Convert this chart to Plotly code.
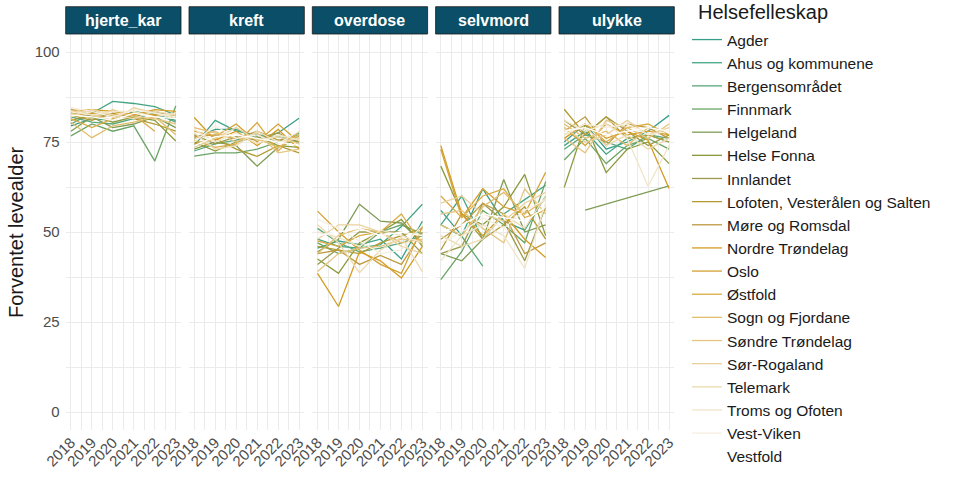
import plotly.graph_objects as go

# Forventet levealder per helsefelleskap, dødsårsak og år
years = [2018, 2019, 2020, 2021, 2022, 2023]
causes = ["hjerte_kar", "kreft", "overdose", "selvmord", "ulykke"]

regions = [
    "Agder", "Ahus og kommunene", "Bergensområdet", "Finnmark", "Helgeland",
    "Helse Fonna", "Innlandet", "Lofoten, Vesterålen og Salten", "Møre og Romsdal",
    "Nordre Trøndelag", "Oslo", "Østfold", "Sogn og Fjordane", "Søndre Trøndelag",
    "Sør-Rogaland", "Telemark", "Troms og Ofoten", "Vest-Viken", "Vestfold",
]

colors = [
    "#3a9f8a", "#44a585", "#5aa87c", "#6aa566", "#7f9d55", "#8c9a3c", "#9b9a4c",
    "#b19b32", "#be9b42", "#d49c22", "#d4a132", "#dbab45", "#e2bd6b", "#e5c582",
    "#e9d19e", "#ecdab0", "#f1e5c8", "#f5eedf", "#ffffff",
]

hjerte_kar = [
    [79.5, 81.5, 81.0, 83.5, 82.5, 81.0],
    [80.0, 83.0, 86.3, 85.7, 84.8, 82.5],
    [82.0, 80.5, 80.0, 81.5, 83.0, 80.5],
    [76.7, 80.0, 78.0, 79.5, 69.7, 85.0],
    [78.0, 82.0, 79.0, 80.0, 82.0, 79.0],
    [81.0, 82.5, 80.5, 82.0, 81.0, 75.3],
    [83.0, 82.0, 82.5, 82.0, 83.5, 82.0],
    [82.5, 81.0, 83.0, 81.5, 80.0, 78.0],
    [84.0, 83.5, 82.0, 83.0, 82.5, 83.0],
    [83.5, 84.0, 83.5, 82.5, 84.0, 83.5],
    [82.5, 83.0, 82.5, 83.0, 82.5, 82.5],
    [81.5, 79.0, 81.5, 82.5, 78.0, None],
    [80.5, 76.2, 79.5, 80.5, 82.0, 77.0],
    [83.0, 81.5, 84.0, 82.0, 81.5, 80.0],
    [84.5, 82.5, 81.0, 84.5, 83.0, 81.5],
    [82.0, 84.0, 82.5, 81.5, 83.5, 82.5],
    [83.5, 82.5, 83.5, 83.5, 82.0, 83.0],
    [84.5, 83.5, 82.0, 84.0, 83.0, 82.0],
    [82.5, 82.0, 81.0, 83.0, 82.0, 81.5],
]

kreft = [
    [76.0, 78.5, 78.5, 76.0, 77.5, 81.6],
    [74.0, 81.0, 78.0, 77.0, 75.0, 77.5],
    [72.5, 74.5, 75.5, 77.0, 76.5, 75.0],
    [71.1, 72.0, 72.0, 73.0, 75.0, 77.0],
    [73.0, 75.0, 74.0, 68.3, 73.5, 76.0],
    [75.0, 72.5, 75.0, 76.5, 74.0, 73.5],
    [77.0, 74.5, 76.5, 75.5, 77.5, 74.5],
    [74.5, 76.0, 73.0, 71.0, 74.0, 72.0],
    [76.5, 77.0, 76.0, 78.0, 75.5, 76.5],
    [81.8, 75.5, 78.0, 74.0, 78.5, 73.0],
    [78.0, 76.5, 80.0, 75.0, 80.0, 75.0],
    [75.5, 73.5, 74.5, 80.4, 72.5, 78.0],
    [79.0, 77.5, 76.0, 76.0, 73.5, 77.0],
    [76.0, 78.0, 75.0, 77.5, 72.0, 73.0],
    [73.5, 76.0, 79.0, 75.5, 76.5, 74.5],
    [77.5, 73.0, 74.0, 78.0, 75.0, 76.0],
    [78.5, 75.0, 77.5, 74.5, 77.0, 75.5],
    [75.0, 79.5, 76.0, 77.0, 74.5, 78.0],
    [74.0, 76.5, 77.0, 76.0, 75.0, 74.0],
]

overdose = [
    [45.5, 47.5, 46.5, 48.0, 42.5, 53.0],
    [48.0, 46.0, 45.5, 46.5, 51.5, 57.7],
    [51.0, 47.0, 44.5, 45.5, 47.0, 49.0],
    [47.0, 44.0, 45.5, 50.0, 52.0, 49.5],
    [44.5, 48.0, 57.7, 53.0, 52.5, 47.0],
    [42.5, 38.5, 47.0, 50.0, 53.5, 46.0],
    [41.0, 45.5, 50.0, 50.0, 50.0, 44.0],
    [46.0, 45.0, 44.0, 47.0, 49.0, 51.0],
    [44.0, 45.0, 41.0, 43.5, 41.0, 50.0],
    [38.5, 29.3, 44.5, 42.0, 37.2, 46.0],
    [55.8, 50.0, 45.0, 41.0, 38.5, 51.5],
    [47.5, 46.0, 49.0, 50.0, 55.0, 46.5],
    [44.0, 49.0, 51.0, 50.0, 47.0, 48.0],
    [39.0, 44.0, 45.5, 46.0, 48.0, 47.5],
    [48.0, 52.0, 52.0, 50.0, 46.0, 44.0],
    [52.0, 47.0, 38.7, 45.0, 48.5, 39.0],
    [50.0, 48.5, 46.0, 50.5, 49.0, 47.0],
    [53.5, 51.0, 47.5, 44.0, 45.0, 52.0],
    [49.0, 50.0, 51.0, 49.0, 50.0, 49.0],
]

selvmord = [
    [56.0, 49.0, 62.0, 53.0, 50.5, 60.0],
    [52.0, 60.0, 48.0, 55.0, 59.0, 63.0],
    [52.0, 48.8, 40.5, None, None, None],
    [36.8, 44.6, 56.0, 52.0, 47.0, 64.0],
    [44.0, 42.0, 48.0, 64.6, 50.0, 52.0],
    [68.3, 55.0, 52.0, 57.0, 66.0, 49.0],
    [44.0, 46.0, 58.0, 53.0, 42.0, 57.0],
    [45.0, 55.0, 48.0, 52.0, 57.0, 48.0],
    [48.0, 52.0, 58.0, 55.0, 44.0, 47.0],
    [74.0, 55.0, 49.0, 55.0, 48.0, 42.9],
    [73.0, 54.0, 62.0, 57.0, 55.0, 66.6],
    [60.0, 54.0, 60.0, 62.0, 54.0, 56.0],
    [52.0, 49.0, 57.0, 61.0, 55.0, 59.0],
    [55.0, 56.0, 51.0, 47.0, 62.0, 55.0],
    [58.0, 60.0, 55.0, 53.0, 58.0, 61.0],
    [49.0, 46.0, 48.0, 55.0, 51.0, 60.0],
    [42.0, 49.0, 52.0, 49.0, 39.9, 58.0],
    [47.0, 50.0, 54.0, 51.0, 56.0, 59.0],
    [50.0, 52.0, 55.0, 54.0, 53.0, 57.0],
]

ulykke = [
    [75.0, 80.0, 73.0, 75.0, 78.0, 82.4],
    [74.0, 78.0, 71.6, 76.0, 77.0, 75.0],
    [73.0, 77.0, 75.0, 73.0, 77.0, 76.0],
    [70.0, 76.0, 69.0, 74.0, 76.0, 73.0],
    [None, 56.1, None, None, None, 62.8],
    [62.4, 80.0, 66.5, 73.0, 75.0, 69.0],
    [81.0, 77.0, 82.0, 78.0, 74.0, 77.0],
    [84.1, 77.0, 82.0, 76.0, 77.0, 75.0],
    [78.0, 82.0, 74.0, 80.0, 79.0, 76.0],
    [76.0, 80.0, 76.0, 78.0, 75.5, 62.1],
    [79.0, 74.0, 80.0, 77.0, 78.0, 77.0],
    [77.0, 80.0, 75.0, 79.0, 80.0, 77.0],
    [80.0, 76.0, 78.0, 74.0, 79.0, 78.0],
    [76.0, 72.0, 81.0, 79.0, 76.0, 80.0],
    [79.0, 75.0, 77.0, 81.0, 77.0, 79.0],
    [78.0, 79.0, 74.0, 77.0, 73.0, 76.0],
    [81.0, 78.0, 80.0, 76.0, 62.7, 74.0],
    [77.0, 80.0, 79.0, 80.0, 77.0, 78.0],
    [78.0, 79.0, 77.0, 78.0, 79.0, 78.0],
]

panels = [hjerte_kar, kreft, overdose, selvmord, ulykke]

W, H = 960, 480
FONT = "Liberation Sans"


def fx(px):
    return px / W


def fy(py):
    return 1 - py / H


panel_left = [65.7, 189.0, 312.3, 435.6, 559.0]
panel_w = 115.3
y_top, y_bot = 34.0, 430.0
strip_top = 6.7

fig = go.Figure()

for k, data in enumerate(panels):
    for i, region in enumerate(regions):
        fig.add_trace(go.Scatter(
            x=years, y=data[i], mode="lines", name=region,
            legendgroup=region, showlegend=(k == 0),
            line=dict(color=colors[i], width=1.3),
            connectgaps=True, xaxis=f"x{k + 1}", yaxis=f"y{k + 1}",
        ))

layout = dict(
    width=W, height=H, autosize=False,
    margin=dict(l=0, r=0, t=0, b=0, pad=0),
    paper_bgcolor="white", plot_bgcolor="white",
    font=dict(family=FONT, color="#1a1a1a"),
    showlegend=True,
    legend=dict(
        font=dict(size=15.5, color="#1a1a1a"),
        x=fx(687), xanchor="left", y=fy(23), yanchor="top",
        itemwidth=30, tracegroupgap=0, maxheight=H,
        bgcolor="rgba(0,0,0,0)",
    ),
)

shapes = []
annotations = []
minor_x = [2018.5, 2019.5, 2020.5, 2021.5, 2022.5]
for k, cause in enumerate(causes):
    x0 = fx(panel_left[k])
    x1 = fx(panel_left[k] + panel_w)
    sfx = "" if k == 0 else str(k + 1)
    layout[f"xaxis{sfx}"] = dict(
        domain=[x0, x1], range=[2017.75, 2023.25], automargin=False,
        tickvals=years, ticktext=[str(y) for y in years], tickangle=-45,
        tickfont=dict(size=15, color="#4d4d4d"),
        showgrid=True, gridcolor="#ebebeb", gridwidth=1, zeroline=False,
        minor=dict(tickvals=minor_x, showgrid=True, gridcolor="#ebebeb", gridwidth=1),
        anchor=f"y{sfx}", fixedrange=True,
    )
    layout[f"yaxis{sfx}"] = dict(
        domain=[fy(y_bot), fy(y_top)], range=[-5, 105], automargin=False,
        tickvals=[0, 25, 50, 75, 100], showticklabels=(k == 0),
        tickfont=dict(size=15, color="#4d4d4d"), ticklabelstandoff=5,
        showgrid=True, gridcolor="#ebebeb", gridwidth=1, zeroline=False,
        minor=dict(tickvals=[12.5, 37.5, 62.5, 87.5], showgrid=True,
                   gridcolor="#ebebeb", gridwidth=1),
        anchor=f"x{sfx}", fixedrange=True,
    )
    shapes.append(dict(
        type="rect", xref="paper", yref="paper",
        x0=x0, x1=x1, y0=fy(y_top), y1=fy(strip_top),
        fillcolor="#0a4f67", line=dict(color="#1a1a1a", width=0.8),
    ))
    annotations.append(dict(
        text=f"<b>{cause}</b>", xref="paper", yref="paper",
        x=(x0 + x1) / 2, y=fy((strip_top + y_top) / 2),
        xanchor="center", yanchor="middle", showarrow=False,
        font=dict(size=16, color="white", family=FONT),
    ))

annotations.append(dict(
    text="Helsefelleskap", xref="paper", yref="paper",
    x=fx(696), y=fy(12), xanchor="left", yanchor="middle", showarrow=False,
    font=dict(size=20, color="#1a1a1a", family=FONT),
))
annotations.append(dict(
    text="Forventet levealder", xref="paper", yref="paper",
    x=fx(16), y=fy(232), textangle=-90,
    xanchor="center", yanchor="middle", showarrow=False,
    font=dict(size=20, color="#1a1a1a", family=FONT),
))

layout["shapes"] = shapes
layout["annotations"] = annotations
fig.update_layout(**layout)

# the default page has an 8px body margin; drop it so the 960x480 figure
# fills the window exactly
fig.write_html(
    "out.html",
    config={"displayModeBar": False},
    post_script="document.body.style.margin = '0';",
)
